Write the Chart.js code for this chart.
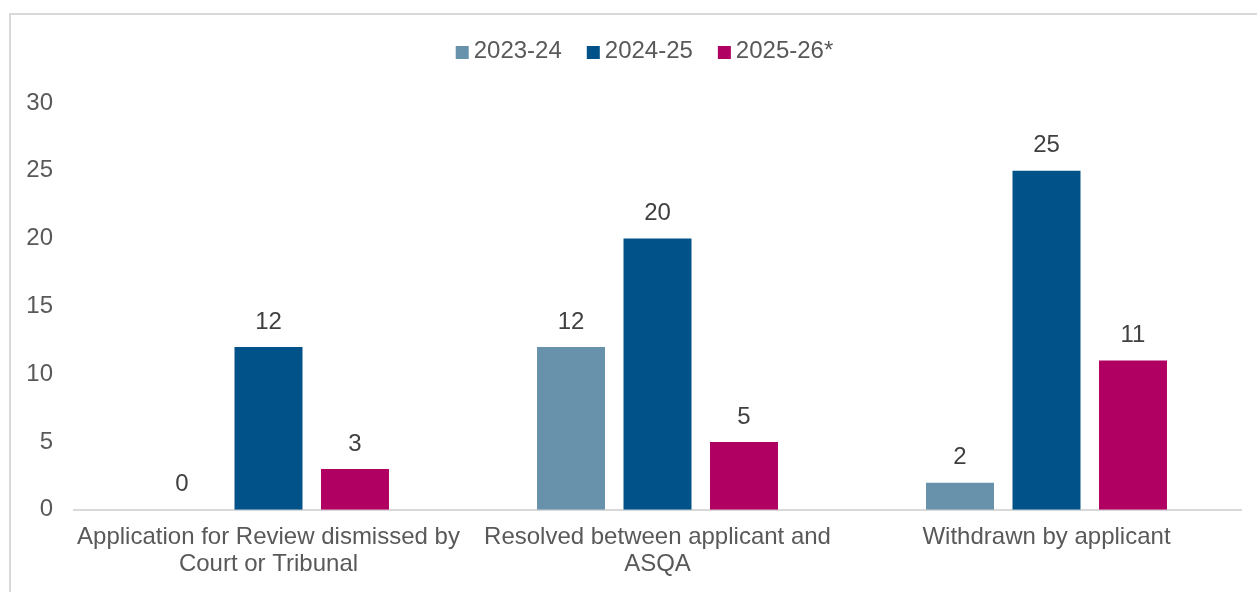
<!DOCTYPE html>
<html lang="en">
<head>
    <meta charset="UTF-8">
    <title>Review outcomes</title>
    <script src="https://cdn.jsdelivr.net/npm/chart.js"></script>
    <style>
        html, body { margin: 0; padding: 0; background: #fff; overflow: hidden; }
        #frame { position: absolute; left: 9px; top: 13px; width: 1300px; height: 650px; border: 2px solid #d9d9d9; box-sizing: border-box; }
        #wrap { position: absolute; left: 0; top: 0; width: 1257px; height: 592px; }
    </style>
</head>
<body>
    <div id="frame"></div>
    <div id="wrap"><canvas id="chart"></canvas></div>

    <script>
        // chart data
        const categories = [
            ['Application for Review dismissed by', 'Court or Tribunal'],
            ['Resolved between applicant and', 'ASQA'],
            'Withdrawn by applicant'
        ];
        const seriesNames = ['2023-24', '2024-25', '2025-26*'];
        const values2324 = [0, 12, 2];
        const values2425 = [12, 20, 25];
        const values2526 = [3, 5, 11];
        const yTicks = [0, 5, 10, 15, 20, 25, 30];

        const colours = ['#6892ab', '#005288', '#b00062'];
        const fontFamily = 'Arial, "Liberation Sans", sans-serif';
        const font = { family: fontFamily, size: 24, lineHeight: 1.13 };

        // value labels above bars
        const barLabels = {
            id: 'barLabels',
            afterDatasetsDraw(chart) {
                const ctx = chart.ctx;
                ctx.save();
                ctx.font = '24px ' + fontFamily;
                ctx.fillStyle = '#404040';
                ctx.textAlign = 'center';
                ctx.textBaseline = 'middle';
                chart.data.datasets.forEach((ds, i) => {
                    chart.getDatasetMeta(i).data.forEach((bar, j) => {
                        ctx.fillText(ds.data[j], bar.x, bar.y - 25);
                    });
                });
                ctx.restore();
            }
        };

        // legend drawn by hand: small square, tight gap, centred on the frame
        const topLegend = {
            id: 'topLegend',
            afterDraw(chart) {
                const ctx = chart.ctx;
                ctx.save();
                ctx.font = '24px ' + fontFamily;
                ctx.textBaseline = 'middle';
                const box = 13, gap = 5, spacing = 25;
                const items = chart.data.datasets.map(ds => ({
                    text: ds.label, color: ds.backgroundColor, w: ctx.measureText(ds.label).width
                }));
                const total = items.reduce((s, it) => s + box + gap + it.w, 0) + spacing * (items.length - 1);
                let x = 644.5 - total / 2;
                const y = 51;
                items.forEach(it => {
                    ctx.fillStyle = it.color;
                    ctx.fillRect(x, y - 5, box, box);
                    ctx.fillStyle = '#595959';
                    ctx.fillText(it.text, x + box + gap, y);
                    x += box + gap + it.w + spacing;
                });
                ctx.restore();
            }
        };

        new Chart(document.getElementById('chart'), {
            type: 'bar',
            data: {
                labels: categories,
                datasets: [
                    { label: seriesNames[0], data: values2324, backgroundColor: colours[0] },
                    { label: seriesNames[1], data: values2425, backgroundColor: colours[1] },
                    { label: seriesNames[2], data: values2526, backgroundColor: colours[2] }
                ]
            },
            options: {
                responsive: true,
                maintainAspectRatio: false,
                animation: false,
                datasets: { bar: { categoryPercentage: 0.667, barPercentage: 0.786 } },
                layout: { padding: { left: 20, right: 16, top: 103, bottom: 0 } },
                plugins: {
                    legend: { display: false },
                    tooltip: { enabled: false }
                },
                scales: {
                    x: {
                        grid: { display: false, drawTicks: false },
                        border: { display: true, color: '#d9d9d9', width: 2 },
                        ticks: { color: '#595959', font: font, padding: 14, maxRotation: 0, autoSkip: false }
                    },
                    y: {
                        min: yTicks[0],
                        max: yTicks[yTicks.length - 1],
                        afterBuildTicks: s => { s.ticks = yTicks.map(v => ({ value: v })); },
                        afterFit: s => { s.width = 54; },
                        grid: { display: false, drawTicks: false },
                        border: { display: false },
                        ticks: { color: '#595959', font: font, padding: 21 }
                    }
                }
            },
            plugins: [barLabels, topLegend]
        });
    </script>
</body>
</html>
